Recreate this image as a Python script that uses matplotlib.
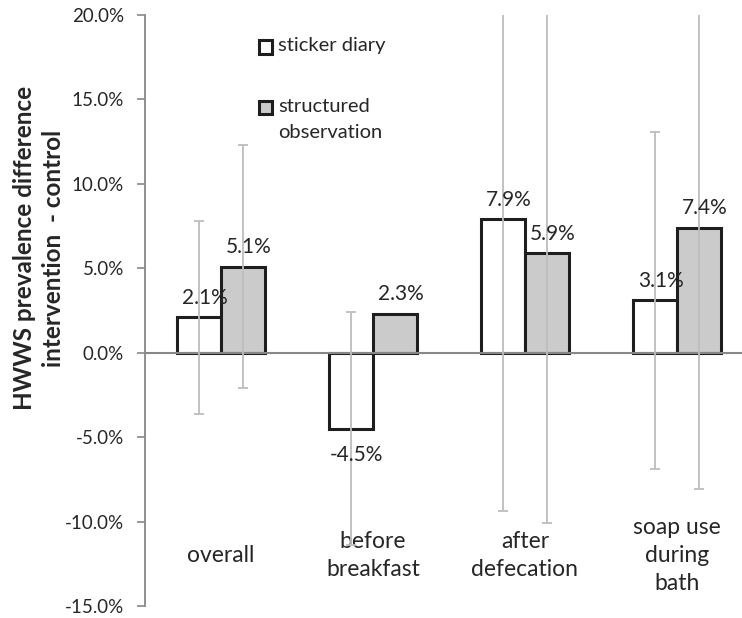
import matplotlib.pyplot as plt
import matplotlib as mpl
from matplotlib.patches import Rectangle
from matplotlib.ticker import FuncFormatter, MultipleLocator
import numpy as np

categories = ["overall", "before\nbreakfast", "after\ndefecation", "soap use\nduring\nbath"]
series_names = ["sticker diary", "structured\nobservation"]
sticker = [2.1, -4.5, 7.9, 3.1]
structured = [5.1, 2.3, 5.9, 7.4]
sticker_ci = [5.7, 6.9, 17.3, 10.0]
structured_ci = [7.2, np.nan, 16.0, 15.5]

mpl.rc("font", family="Lato", size=13.5)
text_color = "#262626"

W, H = 742, 618
fig = plt.figure(figsize=(W / 100, H / 100), dpi=100)
ax = fig.add_axes([145 / W, 1 - 606 / H, 608 / W, 591 / H])

x = np.arange(len(categories))
width = 44 / 152
edge = "#1e1e1e"
fills = ["white", "#cbcbcb"]
ax.bar(x - width / 2, sticker, width, color=fills[0], edgecolor=edge, linewidth=2.2, zorder=2)
ax.bar(x + width / 2, structured, width, color=fills[1], edgecolor=edge, linewidth=2.2, zorder=2)

err_style = dict(fmt="none", ecolor="#bdbdbd", elinewidth=1.3, capsize=3.3, capthick=1.3, zorder=4)
ax.errorbar(x - width / 2, sticker, yerr=sticker_ci, **err_style)
ax.errorbar(x + width / 2, structured, yerr=structured_ci, **err_style)

ax.axhline(0, color="#878787", linewidth=1.5, zorder=3)

# value labels at the outside end of each bar
for xs, vals in [(x - width / 2, sticker), (x + width / 2, structured)]:
    for xi, v in zip(xs, vals):
        off = 14 if v >= 0 else -19
        ax.annotate(f"{v:.1f}%", (xi, v), xytext=(4, off), textcoords="offset points",
                    ha="center", va="center", color=text_color, fontsize=15, zorder=5)

for xi, cat in zip(x, categories):
    ax.text(xi, -12.0, cat, ha="center", va="center", color=text_color,
            fontsize=16.5, linespacing=1.4)

ax.set_xlim(-0.5, 3.5)
ax.set_ylim(-15, 20)
ax.yaxis.set_major_locator(MultipleLocator(5))
ax.yaxis.set_major_formatter(FuncFormatter(lambda v, p: f"{v:.1f}%"))
ax.tick_params(axis="y", length=6, width=1.2, color="#878787", pad=9, labelcolor=text_color)
ax.tick_params(axis="x", bottom=False, labelbottom=False)
for s in ["top", "right", "bottom"]:
    ax.spines[s].set_visible(False)
ax.spines["left"].set_color("#878787")
ax.spines["left"].set_linewidth(1.3)

# legend: square swatch aligned with the first line of each entry
legend_rows = [0.934, 0.832]
for name, fill, yb in zip(series_names, fills, legend_rows):
    ax.add_patch(Rectangle((0.1875, yb), 0.022, 0.023, transform=ax.transAxes,
                           facecolor=fill, edgecolor=edge, linewidth=2.2, clip_on=False))
    ax.text(0.219, yb + 0.028, name, transform=ax.transAxes, ha="left", va="top",
            fontsize=14.5, color=text_color, linespacing=1.65)

fig.text(39 / W, 1 - 248 / H, "HWWS prevalence difference\nintervention  - control",
         rotation=90, ha="center", va="center", fontsize=17.5, fontweight="bold",
         color=text_color, linespacing=1.3)

fig.savefig("out.png", dpi=100)
